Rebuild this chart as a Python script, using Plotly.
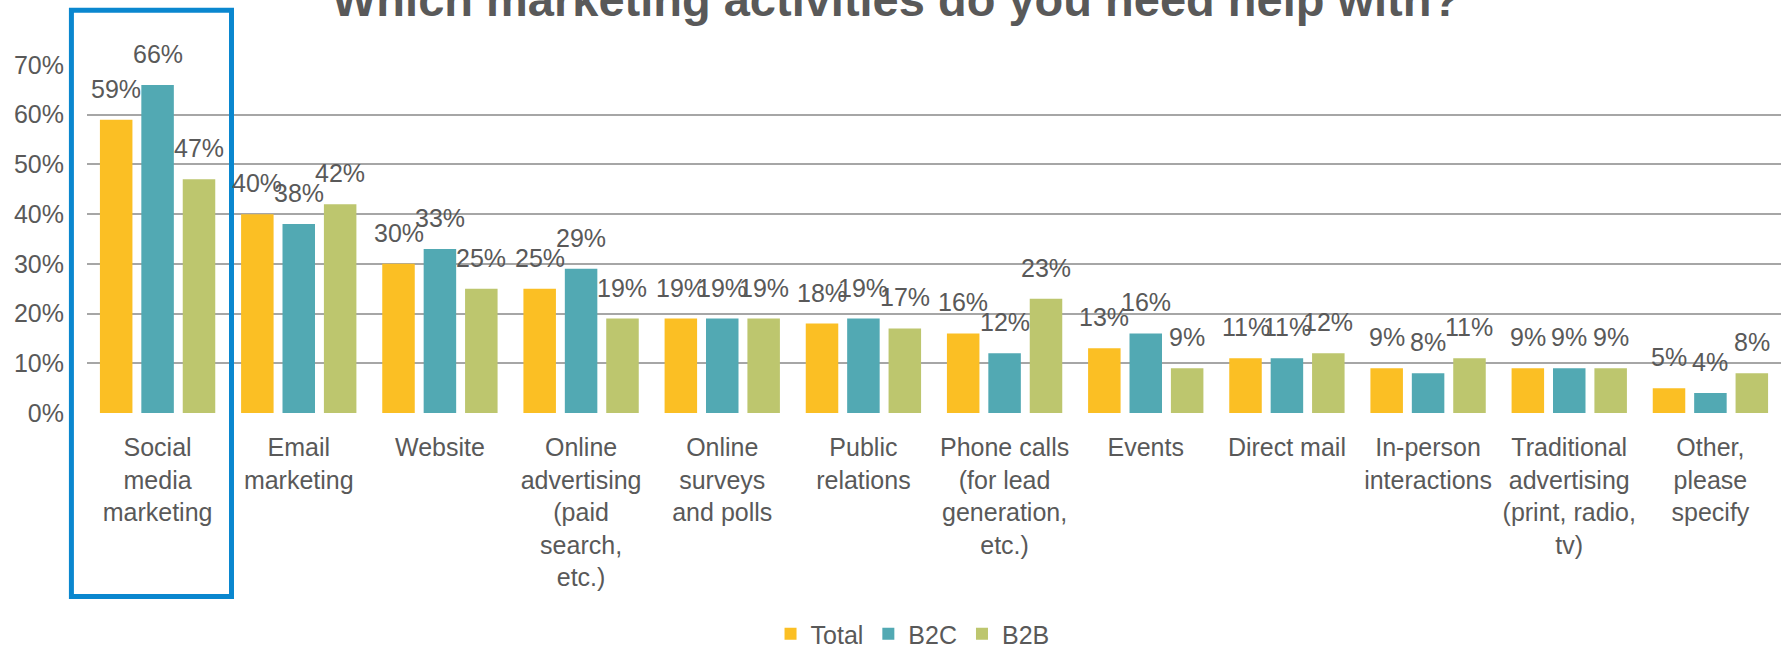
import plotly.graph_objects as go

# Survey answers: share of respondents needing help, by activity
categories = [
    "Social<br>media<br>marketing",
    "Email<br>marketing",
    "Website",
    "Online<br>advertising<br>(paid<br>search,<br>etc.)",
    "Online<br>surveys<br>and polls",
    "Public<br>relations",
    "Phone calls<br>(for lead<br>generation,<br>etc.)",
    "Events",
    "Direct mail",
    "In-person<br>interactions",
    "Traditional<br>advertising<br>(print, radio,<br>tv)",
    "Other,<br>please<br>specify",
]
total = [59, 40, 30, 25, 19, 18, 16, 13, 11, 9, 9, 5]
b2c = [66, 38, 33, 29, 19, 19, 12, 16, 11, 8, 9, 4]
b2b = [47, 42, 25, 19, 19, 17, 23, 9, 12, 11, 9, 8]

series = [("Total", total, "#FBBF24"), ("B2C", b2c, "#52A9B3"), ("B2B", b2b, "#BDC66E")]

FONT = "Liberation Sans, Arial, sans-serif"
TXT = "#595959"
BARGAP = 0.12

fig = go.Figure()
for name, vals, color in series:
    fig.add_trace(go.Bar(
        name=name,
        x=list(range(len(categories))),
        y=[v / 100 for v in vals],
        marker=dict(color=color, line=dict(width=0)),
    ))

# value labels above each bar, positioned at the grouped-bar offsets
slot = (1 - BARGAP) / len(series)
annotations = []
for k, (name, vals, color) in enumerate(series):
    off = (k - 1) * slot
    for i, v in enumerate(vals):
        annotations.append(dict(
            x=i + off, y=v / 100, xref="x", yref="y",
            text=f"{v}%", showarrow=False,
            yanchor="bottom", yshift=15,
            font=dict(family=FONT, size=25, color=TXT),
        ))

# chart title
annotations.append(dict(
    x=(896 - 87) / 1694, y=1.106, xref="paper", yref="paper",
    text="<b>Which marketing activities do you need help with?</b>",
    showarrow=False, xanchor="center", yanchor="bottom",
    font=dict(family=FONT, size=47, color=TXT),
))

fig.update_layout(
    width=1786, height=649,
    margin=dict(l=87, r=5, t=65, b=236, autoexpand=False),
    paper_bgcolor="white", plot_bgcolor="white",
    barmode="group", bargap=BARGAP, bargroupgap=0.215,
    font=dict(family=FONT, size=25, color=TXT),
    annotations=annotations,
    showlegend=True,
    legend=dict(
        orientation="h", x=0.4035, xanchor="left",
        yref="container", y=1 - 634 / 649, yanchor="middle",
        font=dict(family=FONT, size=25, color=TXT),
        traceorder="normal",
    ),
    # highlight box around the first category
    shapes=[dict(
        type="rect", xref="paper", yref="paper",
        x0=-0.0092, x1=0.0853, y0=-0.527, y1=1.157,
        line=dict(color="#0A87CF", width=5), fillcolor="rgba(0,0,0,0)",
    )],
)

fig.update_xaxes(
    tickmode="array", tickvals=list(range(len(categories))), ticktext=categories,
    range=[-0.5, len(categories) - 0.5],
    showgrid=False, zeroline=False, showline=False, ticks="",
    tickfont=dict(family=FONT, size=25, color=TXT),
    ticklabelstandoff=17, tickangle=0,
)
fig.update_yaxes(
    range=[0, 0.7], tickvals=[0, 0.1, 0.2, 0.3, 0.4, 0.5, 0.6, 0.7],
    tickformat=".0%", showgrid=True, gridcolor="#A6A6A6", gridwidth=2,
    zeroline=False, showline=False, ticks="",
    tickfont=dict(family=FONT, size=25, color=TXT),
    ticklabelstandoff=22,
)

fig.write_html("out.html")
